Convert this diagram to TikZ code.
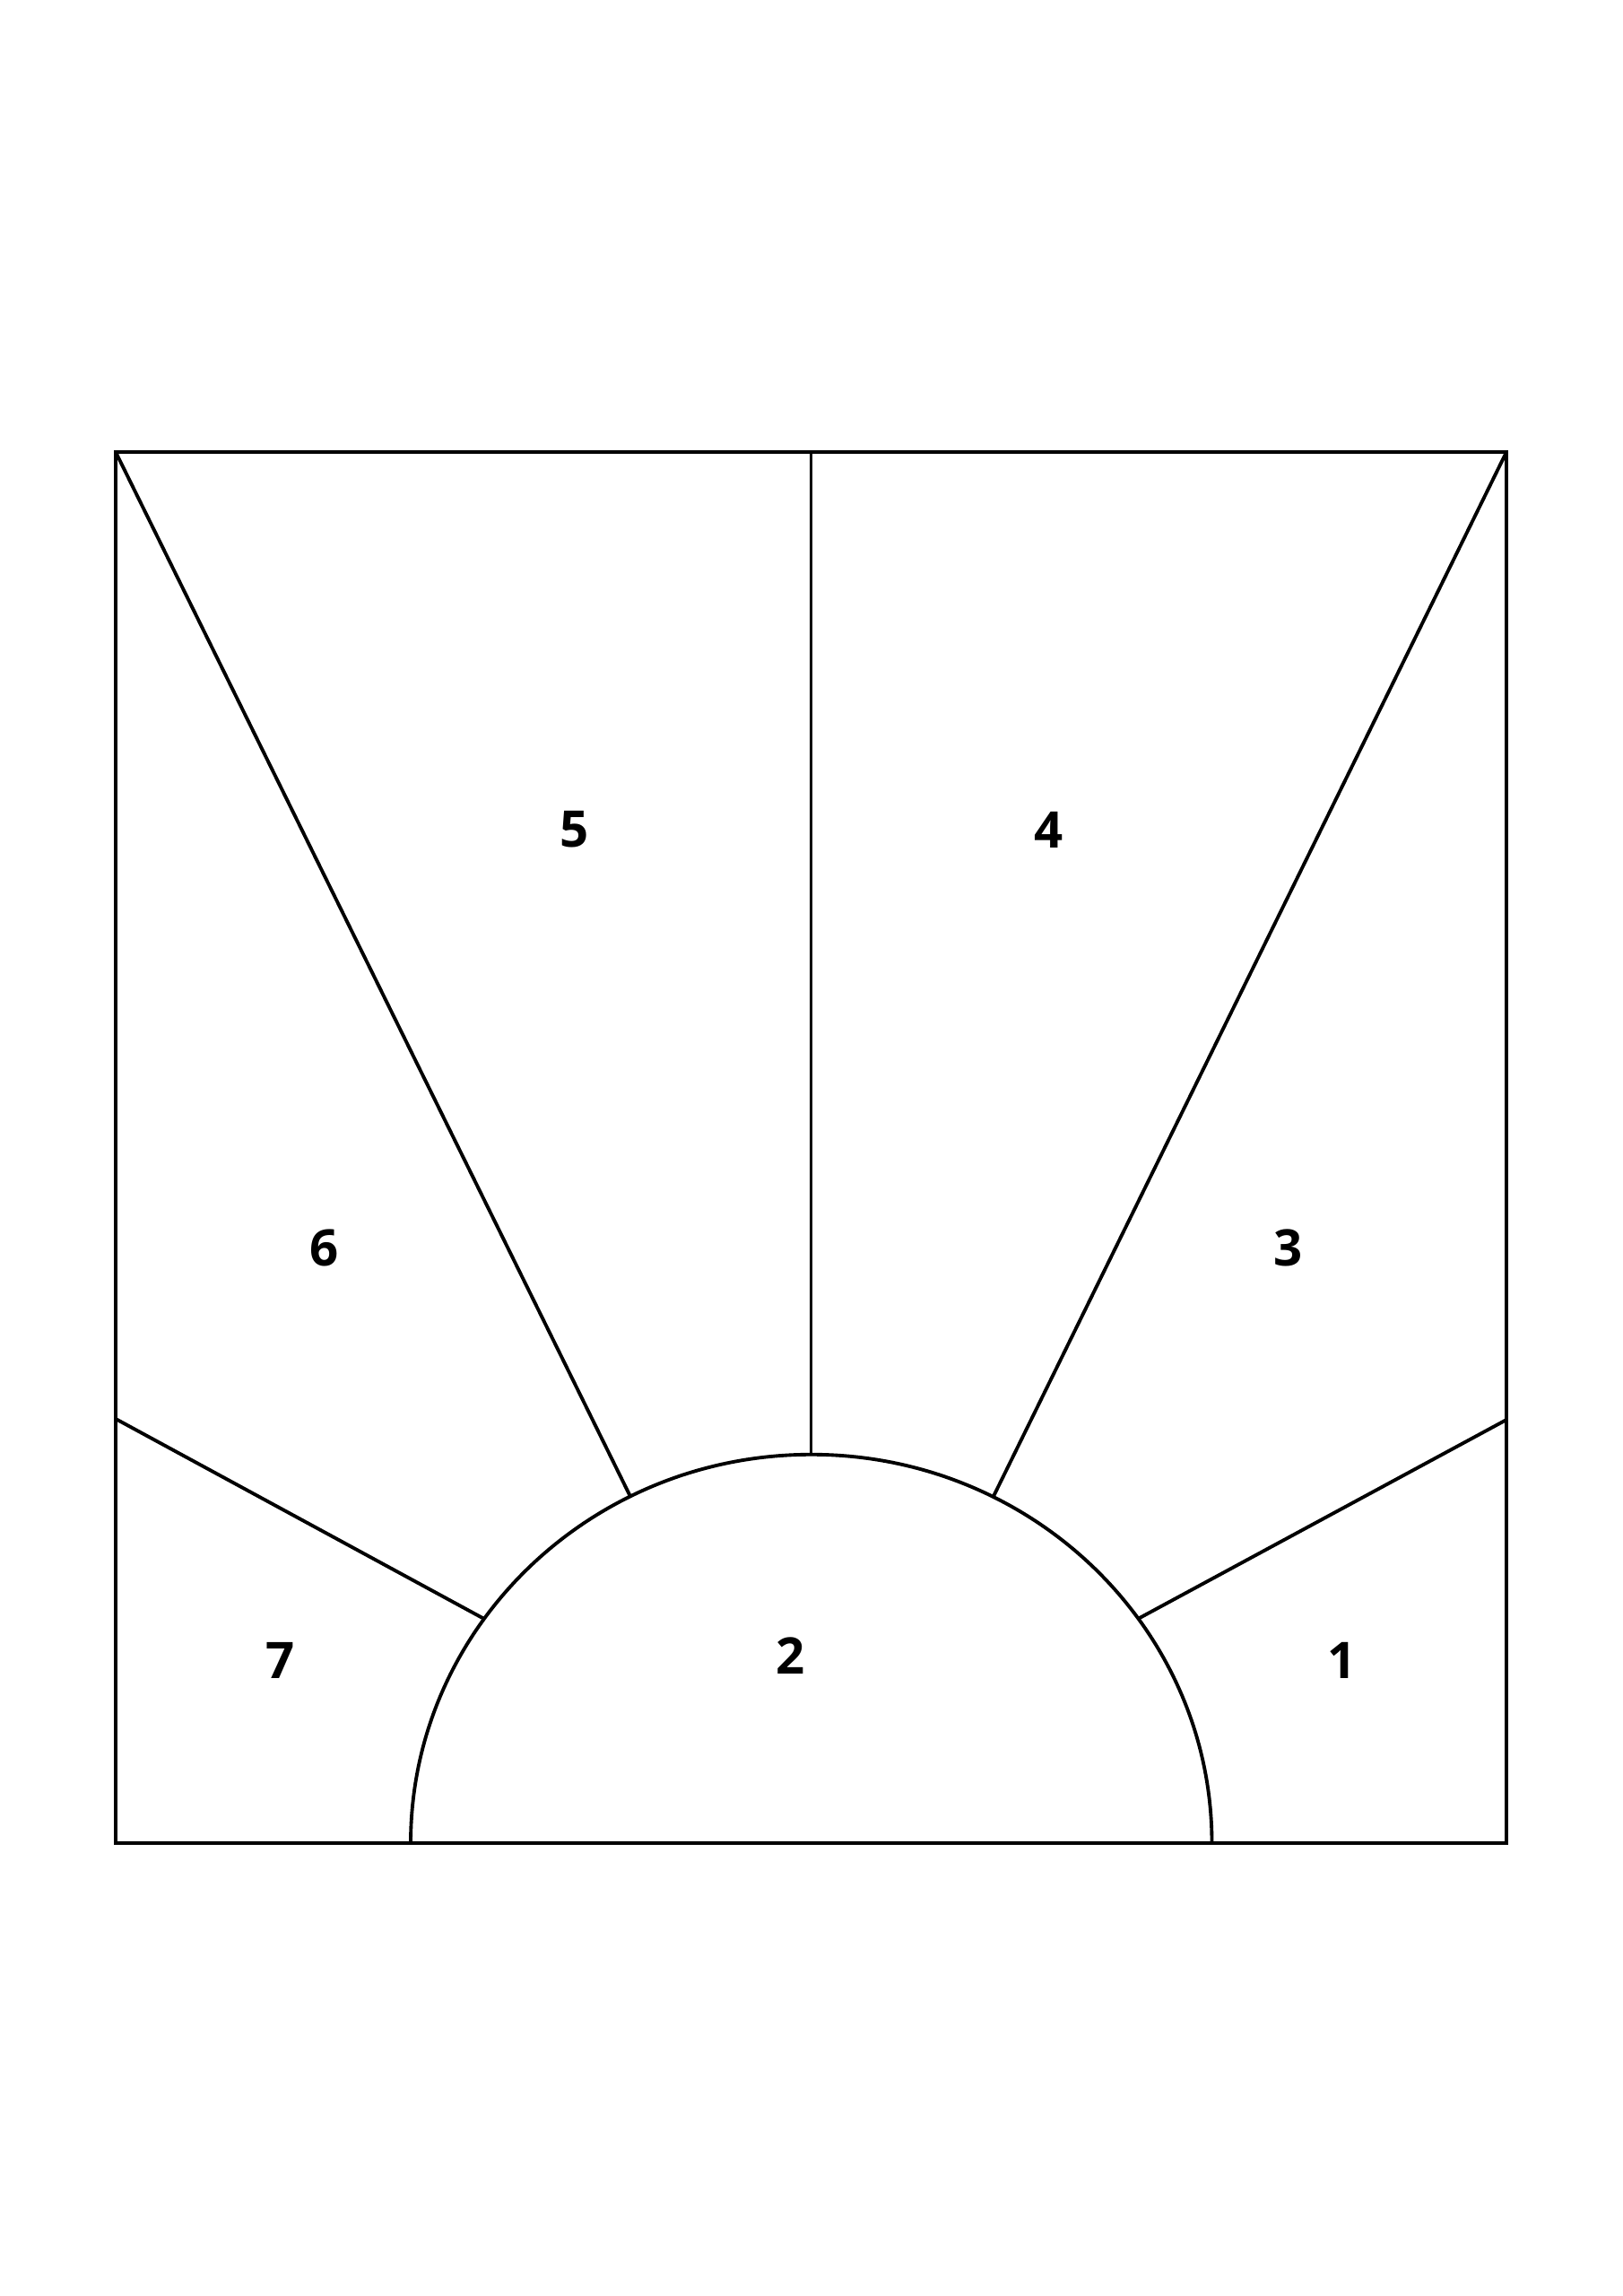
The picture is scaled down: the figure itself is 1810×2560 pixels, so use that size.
\documentclass[tikz,border=0pt]{standalone}
\usepackage{fontspec}
\setmainfont{Open Sans}
\usepackage{tikz}
\usetikzlibrary{positioning}
\tikzset{
    frame/.style={line width=1.1pt, line join=miter},
    ray/.style={line width=1.1pt},
    num/.style={font=\fontsize{16}{16}\selectfont\bfseries, inner sep=0pt}
}

\begin{document}
\begin{tikzpicture}[x=0.01cm, y=-0.01cm]
    \useasboundingbox (0,0) rectangle (1810,2560);
    % square and its corners
    \coordinate (tl) at (129,504);
    \coordinate (tr) at (1680,504);
    \coordinate (bl) at (129,2055);
    \coordinate (br) at (1680,2055);
    \coordinate (tm) at (904.5,504);
    \coordinate (ml) at (129,1582);
    \coordinate (mr) at (1680,1583);
    % points on the half sun
    \coordinate (footl) at (458,2055);
    \coordinate (footr) at (1351,2055);
    \coordinate (top) at (904.5,1622);
    \coordinate (sl) at (703,1668.6);
    \coordinate (sr) at (1107.5,1669.3);
    \coordinate (ll) at (540,1805);
    \coordinate (lr) at (1269,1805);
    \draw[frame] (tl) rectangle (br);
    \draw[ray] (footl) arc[start angle=180, end angle=0, x radius=4.465cm, y radius=4.33cm];
    \draw[ray] (tm) -- (top);
    \draw[ray] (tl) -- (sl);
    \draw[ray] (tr) -- (sr);
    \draw[ray] (ml) -- (ll);
    \draw[ray] (mr) -- (lr);
    % patch numbers
    \node[num] (n1) at (1497,1851) {1};
    \node[num] (n2) at (882,1846) {2};
    \node[num] (n3) at (1437,1391) {3};
    \node[num] (n4) at (1170,925) {4};
    \node[num] (n5) at (641,925) {5};
    \node[num] (n6) at (362,1391) {6};
    \node[num] (n7) at (313,1851) {7};
\end{tikzpicture}
\end{document}
